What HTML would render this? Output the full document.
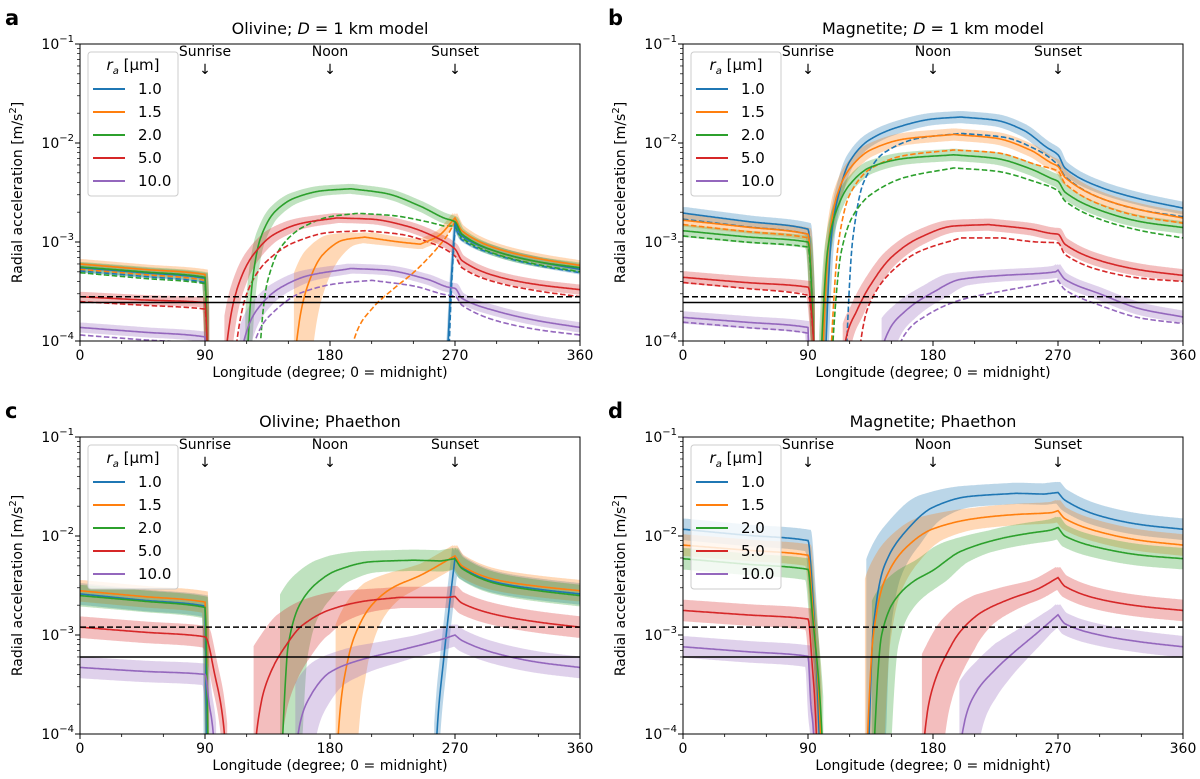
<!DOCTYPE html>
<html><head><meta charset="utf-8"><style>
html,body{margin:0;padding:0;background:#fff;width:1200px;height:779px;overflow:hidden}
svg{display:block;font-family:"DejaVu Sans","Liberation Sans",sans-serif}
</style></head><body>
<svg id="fig" width="1200" height="779" viewBox="0 0 1200 779" xmlns="http://www.w3.org/2000/svg"></svg>
<script>
// ---------- DATA (longitude in degrees, radial acceleration in m/s^2) ----------
// Panel a: Olivine, D = 1 km model
const A_BLUE_LON=[0,45,90,91.5,93,262,265,268,270,275,300,330,360];
const A_BLUE_VAL=[5.5e-4,4.9e-4,4.3e-4,1e-4,1e-5,1e-5,1e-4,6e-4,1.55e-3,1.15e-3,8e-4,6.3e-4,5.3e-4];
const A_ORANGE_LON=[0,45,90,91.5,93,154,156,165,175,190,205,230,245,258,270,275,300,330,360];
const A_ORANGE_VAL=[6e-4,5.3e-4,4.7e-4,1e-4,1e-5,1e-5,1e-4,4e-4,7.5e-4,1.05e-3,1.12e-3,1e-3,9.5e-4,1.15e-3,1.75e-3,1.3e-3,8.6e-4,6.8e-4,5.8e-4];
const A_GREEN_LON=[0,45,90,91.5,93,119,121,125,130,140,155,175,195,220,245,262,270,275,300,330,360];
const A_GREEN_VAL=[5.6e-4,5e-4,4.4e-4,1e-4,1e-5,1e-5,1e-4,5e-4,1.1e-3,2e-3,2.8e-3,3.3e-3,3.45e-3,3.1e-3,2.3e-3,1.75e-3,1.6e-3,1.2e-3,8e-4,6.3e-4,5.5e-4];
const A_RED_LON=[0,45,90,91.5,93,104,106,115,125,140,160,185,210,235,260,270,275,300,330,360];
const A_RED_VAL=[2.8e-4,2.6e-4,2.45e-4,1e-4,1e-5,1e-5,1e-4,4e-4,7.5e-4,1.2e-3,1.55e-3,1.75e-3,1.7e-3,1.45e-3,1.05e-3,8.5e-4,6.5e-4,4.5e-4,3.7e-4,3.3e-4];
const A_PURPLE_LON=[0,45,90,91,115,118,130,145,165,195,220,250,265,270,275,300,330,360];
const A_PURPLE_VAL=[1.37e-4,1.23e-4,1.1e-4,1e-5,1e-5,1e-4,2.3e-4,3.5e-4,4.6e-4,5.4e-4,5.2e-4,4.2e-4,3.5e-4,3.4e-4,2.7e-4,2e-4,1.6e-4,1.37e-4];
const A_BLUE_D_LON=[0,45,90,91.5,93,264,266,268,270,275,300,330,360];
const A_BLUE_D_VAL=[5.1e-4,4.5e-4,3.9e-4,1e-4,1e-5,1e-5,1e-4,5e-4,1.4e-3,1.05e-3,7.4e-4,5.8e-4,4.9e-4];
const A_ORANGE_D_LON=[0,45,90,91.5,93,195,197,210,225,240,255,265,270,275,300,330,360];
const A_ORANGE_D_VAL=[5.3e-4,4.7e-4,4.1e-4,1e-4,1e-5,1e-5,1e-4,2.1e-4,3.3e-4,4.9e-4,8e-4,1.2e-3,1.6e-3,1.2e-3,8e-4,6.3e-4,5.4e-4];
const A_GREEN_D_LON=[0,45,90,91.5,93,128,130,135,145,160,180,200,225,250,262,270,275,300,330,360];
const A_GREEN_D_VAL=[4.9e-4,4.3e-4,3.8e-4,1e-4,1e-5,1e-5,1e-4,4e-4,9e-4,1.4e-3,1.8e-3,1.95e-3,1.85e-3,1.6e-3,1.45e-3,1.45e-3,1.1e-3,7.5e-4,5.9e-4,5e-4];
const A_RED_D_LON=[0,45,90,91.5,93,111,113,122,135,155,180,205,230,255,270,275,300,330,360];
const A_RED_D_VAL=[2.5e-4,2.3e-4,2.1e-4,1e-4,1e-5,1e-5,1e-4,3.5e-4,6.5e-4,1e-3,1.25e-3,1.3e-3,1.2e-3,9.5e-4,7.2e-4,5.5e-4,3.9e-4,3.2e-4,2.8e-4];
const A_PURPLE_D_LON=[0,45,90,91,123,126,140,160,185,210,240,265,270,275,300,330,360];
const A_PURPLE_D_VAL=[1.15e-4,1.03e-4,9.3e-5,1e-5,1e-5,1e-4,2e-4,3.1e-4,3.8e-4,4.1e-4,3.6e-4,2.9e-4,2.85e-4,2.3e-4,1.6e-4,1.3e-4,1.15e-4];
// Panel b: Magnetite, D = 1 km model
const B_BLUE_LON=[0,45,90,94,95,101,103,107,112,120,134,155,180,200,225,245,262,270,275,300,330,360];
const B_BLUE_VAL=[1.96e-3,1.62e-3,1.35e-3,1e-4,1e-5,1e-5,1e-4,1.2e-3,3e-3,6.5e-3,1.07e-2,1.45e-2,1.75e-2,1.83e-2,1.7e-2,1.35e-2,9e-3,7.6e-3,5.6e-3,3.6e-3,2.7e-3,2.2e-3];
const B_ORANGE_LON=[0,45,90,94,95,99,101,105,111,120,135,160,195,225,250,265,270,275,300,330,360];
const B_ORANGE_VAL=[1.66e-3,1.42e-3,1.2e-3,1e-4,1e-5,1e-5,1e-4,1e-3,3e-3,5.5e-3,8.5e-3,1.1e-2,1.22e-2,1.12e-2,8.5e-3,6.3e-3,5.8e-3,4.5e-3,2.8e-3,2.1e-3,1.75e-3];
const B_GREEN_LON=[0,45,90,94,95,98,100,104,110,120,135,160,195,225,250,265,270,275,300,330,360];
const B_GREEN_VAL=[1.3e-3,1.13e-3,1e-3,1e-4,1e-5,1e-5,1e-4,8e-4,2e-3,3.8e-3,5.7e-3,7e-3,7.6e-3,7e-3,5.5e-3,4.4e-3,4.1e-3,3.2e-3,2.1e-3,1.6e-3,1.4e-3];
const B_RED_LON=[0,45,90,94,95,115,117,125,134,150,170,195,220,250,265,270,275,300,330,360];
const B_RED_VAL=[4.4e-4,3.9e-4,3.5e-4,1e-4,1e-5,1e-5,1e-4,2e-4,3.5e-4,7e-4,1.1e-3,1.45e-3,1.5e-3,1.35e-3,1.22e-3,1.2e-3,9.5e-4,6.5e-4,5.2e-4,4.6e-4];
const B_PURPLE_LON=[0,45,90,91,143,145,160,180,200,230,255,268,270,275,300,330,360];
const B_PURPLE_VAL=[1.73e-4,1.55e-4,1.37e-4,1e-5,1e-5,1e-4,2e-4,3.1e-4,4.2e-4,4.6e-4,4.8e-4,5e-4,5.2e-4,4.2e-4,3e-4,2.1e-4,1.75e-4];
const B_BLUE_D_LON=[0,45,90,94,95,116,118,122,130,145,170,200,230,255,270,275,300,330,360];
const B_BLUE_D_VAL=[1.7e-3,1.43e-3,1.2e-3,1e-4,1e-5,1e-5,1e-4,1e-3,4e-3,8e-3,1.12e-2,1.25e-2,1.15e-2,8.5e-3,6e-3,4.6e-3,2.8e-3,2.1e-3,1.8e-3];
const B_ORANGE_D_LON=[0,45,90,94,95,105,107,112,120,135,160,195,225,255,270,275,300,330,360];
const B_ORANGE_D_VAL=[1.5e-3,1.28e-3,1.1e-3,1e-4,1e-5,1e-5,1e-4,1e-3,3e-3,5.5e-3,7.5e-3,8.5e-3,8e-3,6e-3,5.2e-3,3.9e-3,2.4e-3,1.8e-3,1.55e-3];
const B_GREEN_D_LON=[0,45,90,94,95,106,108,114,122,135,160,195,225,255,270,275,300,330,360];
const B_GREEN_D_VAL=[1.15e-3,1e-3,8.9e-4,1e-4,1e-5,1e-5,1e-4,8e-4,1.8e-3,3e-3,4.5e-3,5.6e-3,5.2e-3,4e-3,3.3e-3,2.6e-3,1.7e-3,1.3e-3,1.1e-3];
const B_RED_D_LON=[0,45,90,94,95,126,128,135,150,170,200,230,255,270,275,300,330,360];
const B_RED_D_VAL=[3.9e-4,3.4e-4,2.9e-4,1e-4,1e-5,1e-5,1e-4,2.5e-4,5e-4,8e-4,1.1e-3,1.1e-3,1e-3,9.8e-4,7.5e-4,5.2e-4,4.3e-4,4e-4];
const B_PURPLE_D_LON=[0,45,90,91,154,157,175,200,230,255,270,275,300,330,360];
const B_PURPLE_D_VAL=[1.55e-4,1.37e-4,1.2e-4,1e-5,1e-5,1e-4,1.8e-4,2.6e-4,3.2e-4,3.7e-4,4.1e-4,3.3e-4,2.3e-4,1.7e-4,1.5e-4];
// Panel c: Olivine, Phaethon
const C_BLUE_LON=[0,45,90,91,92,255,257,262,266,270,275,300,330,360];
const C_BLUE_VAL=[2.6e-3,2.25e-3,1.96e-3,1e-4,1e-5,1e-5,1e-4,6e-4,2e-3,6e-3,4.8e-3,3.4e-3,2.9e-3,2.6e-3];
const C_ORANGE_LON=[0,45,90,92,93,184,186,190,198,210,225,245,270,275,300,330,360];
const C_ORANGE_VAL=[2.8e-3,2.45e-3,2.15e-3,1e-4,1e-5,1e-5,1e-4,3.5e-4,1e-3,2e-3,3e-3,4e-3,6.3e-3,5e-3,3.6e-3,3.1e-3,2.8e-3];
const C_GREEN_LON=[0,45,90,92,93,144,146,150,158,170,185,210,240,260,270,275,300,330,360];
const C_GREEN_VAL=[2.5e-3,2.2e-3,1.9e-3,1e-4,1e-5,1e-5,1e-4,8e-4,2e-3,3.3e-3,4.5e-3,5.5e-3,5.7e-3,5.6e-3,5.9e-3,4.7e-3,3.3e-3,2.8e-3,2.5e-3];
const C_RED_LON=[0,45,90,97,104,106,125,127,135,150,160,180,205,230,265,270,275,300,330,360];
const C_RED_VAL=[1.2e-3,1.07e-3,9.6e-4,4e-4,1e-4,1e-5,1e-5,1e-4,3.5e-4,8.5e-4,1.25e-3,1.8e-3,2.2e-3,2.4e-3,2.4e-3,2.45e-3,2.1e-3,1.6e-3,1.35e-3,1.2e-3];
const C_PURPLE_LON=[0,45,90,93,96,98,155,157,165,180,200,230,260,270,275,300,330,360];
const C_PURPLE_VAL=[4.7e-4,4.3e-4,4e-4,2e-4,1e-4,1e-5,1e-5,1e-4,2.3e-4,4.2e-4,5.5e-4,7e-4,9e-4,1e-3,8.8e-4,6.5e-4,5.3e-4,4.7e-4];
// Panel d: Magnetite, Phaethon
const D_BLUE_LON=[0,45,90,93,98,99,132,134,137,145,160,180,205,240,260,270,275,300,330,360];
const D_BLUE_VAL=[1.17e-2,1.02e-2,9e-3,3e-3,1e-4,1e-5,1e-5,1e-4,1.2e-3,5e-3,1.1e-2,1.95e-2,2.5e-2,2.7e-2,2.65e-2,2.75e-2,2.3e-2,1.6e-2,1.3e-2,1.17e-2];
const D_ORANGE_LON=[0,45,90,93,99,100,131,133,137,145,160,180,210,240,265,270,275,300,330,360];
const D_ORANGE_VAL=[8.1e-3,7.2e-3,6.4e-3,2.2e-3,1e-4,1e-5,1e-5,1e-4,1e-3,3.5e-3,7.5e-3,1.18e-2,1.5e-2,1.65e-2,1.72e-2,1.8e-2,1.5e-2,1.1e-2,9e-3,8.1e-3];
const D_GREEN_LON=[0,45,90,93,100,101,136,138,143,152,165,180,200,230,250,265,270,275,300,330,360];
const D_GREEN_VAL=[5.9e-3,5.2e-3,4.6e-3,1.7e-3,1e-4,1e-5,1e-5,1e-4,1e-3,2.2e-3,3.4e-3,4.5e-3,7e-3,9.5e-3,1.07e-2,1.15e-2,1.22e-2,1e-2,7.6e-3,6.4e-3,5.9e-3];
const D_RED_LON=[0,45,90,93,96,97,172,174,180,190,200,215,235,255,270,275,300,330,360];
const D_RED_VAL=[1.77e-3,1.6e-3,1.45e-3,5e-4,1e-4,1e-5,1e-5,1e-4,3e-4,6.5e-4,1.1e-3,1.7e-3,2.3e-3,2.9e-3,3.8e-3,3.1e-3,2.3e-3,1.95e-3,1.77e-3];
const D_PURPLE_LON=[0,45,90,92,94,95,199,201,210,225,240,255,270,275,300,330,360];
const D_PURPLE_VAL=[7.6e-4,6.8e-4,6.1e-4,2e-4,1e-4,1e-5,1e-5,1e-4,2.5e-4,4.5e-4,7e-4,1.05e-3,1.6e-3,1.3e-3,1e-3,8.5e-4,7.6e-4];
// reference levels
const AB_HLINES=[2.8e-4,2.45e-4];
const CD_HLINES=[1.2e-3,6e-4];
const X_TICKS=[0,90,180,270,360];
const Y_TICK_EXP=[-1,-2,-3,-4];
const LEGEND_LABELS=["1.0","1.5","2.0","5.0","10.0"];

// ---------- RENDERING ----------
const NS="http://www.w3.org/2000/svg";
const svg=document.getElementById('fig');
const COLORS=["#1f77b4","#ff7f0e","#2ca02c","#d62728","#9467bd"];
const W=500,H=297;
function mk(tag,attrs,parent){const e=document.createElementNS(NS,tag);for(const k in attrs)e.setAttribute(k,attrs[k]);(parent||svg).appendChild(e);return e;}

function interp(xs,ys){
  const n=xs.length, L=ys.map(v=>Math.log10(v));
  const d=[];for(let i=0;i<n-1;i++)d.push((L[i+1]-L[i])/(xs[i+1]-xs[i]));
  const mR=new Array(n),mL=new Array(n);
  mR[0]=d[0];mL[n-1]=d[n-2];
  for(let i=1;i<n-1;i++){
    if(d[i-1]*d[i]<=0){mL[i]=d[i-1];mR[i]=d[i];}
    else{const h=2/(1/d[i-1]+1/d[i]);mL[i]=h;mR[i]=h;}
  }
  return function(x){
    if(x<=xs[0])return L[0]; if(x>=xs[n-1])return L[n-1];
    let i=0;while(i<n-2&&x>xs[i+1])i++;
    const h=xs[i+1]-xs[i],t=(x-xs[i])/h;
    const h00=2*t*t*t-3*t*t+1,h10=t*t*t-2*t*t+t,h01=-2*t*t*t+3*t*t,h11=t*t*t-t*t;
    return h00*L[i]+h10*h*mR[i]+h01*L[i+1]+h11*h*mL[i+1];
  };
}

function makePanel(p){
  const g=mk('g',{});
  
  
  const ox=p.ox,oy=p.oy;
  const xs=l=>ox+l/360*W;
  const ys=lg=>oy+(-1-Math.max(-4.05,Math.min(-0.95,lg)))*(H/3);
  const cid='clip-'+p.letter;
  const cp=mk('clipPath',{id:cid},g);mk('rect',{x:ox,y:oy,width:W,height:H},cp);
  const plot=mk('g',{'clip-path':'url(#'+cid+')'},g);
  
  
  // bands
  p.solid.forEach((s,si)=>{
    let cut=-1;for(let i=0;i<s.lon.length-1;i++){if(s.val[i]<=1.01e-5&&s.val[i+1]<=1.01e-5){cut=i;break;}}
    const segs=cut<0?[[s.lon,s.val,2,0]]:[[s.lon.slice(0,cut+1),s.val.slice(0,cut+1),2,0],[s.lon.slice(cut+1),s.val.slice(cut+1),s.dl,1]];
    segs.forEach(([lo,va,dl,isDay])=>{
      const f=interp(lo,va),a=lo[0],b=lo[lo.length-1];
      const lf=Math.log10(p.f);
      const up=[],dn=[];
      for(let l=a;l<=b+1e-9;l+=0.5){
        let sh=1.5;
        if(isDay){
          if(l<s.lim) sh=dl;
          else if(l<s.lim+40) sh=dl+(1.5-dl)*(l-s.lim)/40;
        } else sh=dl;
        const c=[f(Math.max(a,l-sh)),f(l),f(Math.min(b,l+sh))];
        up.push([xs(l),ys(Math.max(...c)+lf)]);dn.push([xs(l),ys(Math.min(...c)-lf)]);
      }
      const pts=up.concat(dn.reverse()).map(q=>q[0].toFixed(1)+','+q[1].toFixed(1)).join(' ');
      const poly=mk('polygon',{points:pts,fill:COLORS[si],'fill-opacity':0.3,stroke:'none'},plot);
      
      
    });
  });
  function drawLine(s,si,dashed){
    const f=interp(s.lon,s.val);const pts=[];
    for(let i=0;i<s.lon.length-1;i++){
      const a=s.lon[i],b=s.lon[i+1];const n=Math.max(2,Math.ceil((b-a)*2));
      for(let k=0;k<n;k++){const l=a+(b-a)*k/n;pts.push(xs(l).toFixed(1)+','+ys(f(l)).toFixed(1));}
    }
    pts.push(xs(s.lon[s.lon.length-1]).toFixed(1)+','+ys(f(360)).toFixed(1));
    const pl=mk('polyline',{points:pts.join(' '),fill:'none',stroke:COLORS[si],'stroke-width':1.6,'stroke-dasharray':dashed?'5.5,2.5':'none'},plot);
    
    
  }
  (p.dashed||[]).forEach((s,si)=>drawLine(s,si,true));
  p.solid.forEach((s,si)=>drawLine(s,si,false));
  p.hl.forEach((v,i)=>{
    const y=ys(Math.log10(v));
    const ln=mk('line',{x1:ox,x2:ox+W,y1:y,y2:y,stroke:'#000','stroke-width':1.5,'stroke-dasharray':i===0?'6,3':'none'},plot);
    
    
  });
  const fr=mk('rect',{x:ox,y:oy,width:W,height:H,fill:'none',stroke:'#000','stroke-width':1},g);
  
  
  for(let l=0;l<=360;l+=30){const x=xs(l),maj=l%90===0;mk('line',{x1:x,x2:x,y1:oy+H,y2:oy+H+(maj?5:3),stroke:'#000','stroke-width':maj?1:0.8},g);}
  X_TICKS.forEach(l=>{const t=mk('text',{x:xs(l),y:oy+H+19,'text-anchor':'middle','font-size':14},g);t.textContent=l;
    });
  Y_TICK_EXP.forEach(e=>{const y=ys(e);mk('line',{x1:ox-5,x2:ox,y1:y,y2:y,stroke:'#000'},g);
    const t=mk('text',{x:ox-6,y:y+5,'text-anchor':'end','font-size':14},g);
    
    const t1=mk('tspan',{},t);t1.textContent='10';
    const t2=mk('tspan',{dy:-7,'font-size':10},t);t2.textContent='−'+(-e);
    if(e>-4){for(let m=2;m<=9;m++){const yy=ys(e-1+Math.log10(m));mk('line',{x1:ox-3,x2:ox,y1:yy,y2:yy,stroke:'#000','stroke-width':0.7},g);}}
  });
  const xl=mk('text',{x:ox+W/2,y:oy+H+36,'text-anchor':'middle','font-size':14},g);xl.textContent='Longitude (degree; 0 = midnight)';
  
  const yl=mk('text',{x:0,y:0,'text-anchor':'middle','font-size':14,transform:`translate(${ox-58},${oy+H/2}) rotate(-90)`},g);
  
  const y1=mk('tspan',{},yl);y1.textContent='Radial acceleration [m/s';
  const y2=mk('tspan',{dy:-6,'font-size':10},yl);y2.textContent='2';
  const y3=mk('tspan',{dy:6},yl);y3.textContent=']';
  const tt=mk('text',{x:ox+W/2,y:oy-10,'text-anchor':'middle','font-size':16},g);
  
  if(p.model){const a=mk('tspan',{},tt);a.textContent=p.mat+'; ';const b=mk('tspan',{'font-style':'italic'},tt);b.textContent='D';const c=mk('tspan',{},tt);c.textContent=' = 1 km model';}
  else tt.textContent=p.mat+'; Phaethon';
  const lt=mk('text',{x:ox-75,y:oy-19,'font-size':21,'font-weight':'bold'},g);lt.textContent=p.letter;
  
  [['Sunrise',90],['Noon',180],['Sunset',270]].forEach(([s,l])=>{
    const a=mk('text',{x:xs(l),y:oy+12,'text-anchor':'middle','font-size':14},g);a.textContent=s;
    
    const r=mk('text',{x:xs(l),y:oy+30,'text-anchor':'middle','font-size':14},g);r.textContent='↓';
    
  });
  const lg=mk('g',{},g);
  mk('rect',{x:ox+8,y:oy+8,width:90,height:144,rx:3,fill:'#fff','fill-opacity':0.8,stroke:'#ccc'},lg);
  const ltl=mk('text',{x:ox+53,y:oy+26,'text-anchor':'middle','font-size':15},lg);
  
  const r1=mk('tspan',{'font-style':'italic'},ltl);r1.textContent='r';
  const r2=mk('tspan',{'font-style':'italic','font-size':10,dy:4},ltl);r2.textContent='a';
  const r3=mk('tspan',{dy:-4},ltl);r3.textContent=' [μm]';
  LEGEND_LABELS.forEach((lab,i)=>{const y=oy+45+i*23;
    const e=mk('g',{},lg);
    mk('line',{x1:ox+13,x2:ox+45,y1:y,y2:y,stroke:COLORS[i],'stroke-width':2},e);
    const t=mk('text',{x:ox+58,y:y+5,'font-size':15},e);t.textContent=lab;});
}
function S(lon,val,dl,lim){return {lon,val,dl,lim};}
makePanel({name:'panel-a-olivine-model',letter:'a',ox:80,oy:44,mat:'Olivine',model:true,f:1.12,hl:AB_HLINES,
  solid:[S(A_BLUE_LON,A_BLUE_VAL,1,280),S(A_ORANGE_LON,A_ORANGE_VAL,12,185),S(A_GREEN_LON,A_GREEN_VAL,3,150),S(A_RED_LON,A_RED_VAL,4,150),S(A_PURPLE_LON,A_PURPLE_VAL,5,160)],
  dashed:[S(A_BLUE_D_LON,A_BLUE_D_VAL),S(A_ORANGE_D_LON,A_ORANGE_D_VAL),S(A_GREEN_D_LON,A_GREEN_D_VAL),S(A_RED_D_LON,A_RED_D_VAL),S(A_PURPLE_D_LON,A_PURPLE_D_VAL)]});
makePanel({name:'panel-b-magnetite-model',letter:'b',ox:683,oy:44,mat:'Magnetite',model:true,f:1.15,hl:AB_HLINES,
  solid:[S(B_BLUE_LON,B_BLUE_VAL,2,130),S(B_ORANGE_LON,B_ORANGE_VAL,2,130),S(B_GREEN_LON,B_GREEN_VAL,2,130),S(B_RED_LON,B_RED_VAL,4,170),S(B_PURPLE_LON,B_PURPLE_VAL,8,190)],
  dashed:[S(B_BLUE_D_LON,B_BLUE_D_VAL),S(B_ORANGE_D_LON,B_ORANGE_D_VAL),S(B_GREEN_D_LON,B_GREEN_D_VAL),S(B_RED_D_LON,B_RED_D_VAL),S(B_PURPLE_D_LON,B_PURPLE_D_VAL)]});
makePanel({name:'panel-c-olivine-phaethon',letter:'c',ox:80,oy:437,mat:'Olivine',model:false,f:1.28,hl:CD_HLINES,
  solid:[S(C_BLUE_LON,C_BLUE_VAL,2,280),S(C_ORANGE_LON,C_ORANGE_VAL,14,205),S(C_GREEN_LON,C_GREEN_VAL,14,180),S(C_RED_LON,C_RED_VAL,18,180),S(C_PURPLE_LON,C_PURPLE_VAL,12,200)]});
makePanel({name:'panel-d-magnetite-phaethon',letter:'d',ox:683,oy:437,mat:'Magnetite',model:false,f:1.28,hl:CD_HLINES,
  solid:[S(D_BLUE_LON,D_BLUE_VAL,12,170),S(D_ORANGE_LON,D_ORANGE_VAL,12,170),S(D_GREEN_LON,D_GREEN_VAL,12,180),S(D_RED_LON,D_RED_VAL,14,210),S(D_PURPLE_LON,D_PURPLE_VAL,12,225)]});
</script>
</body></html>
